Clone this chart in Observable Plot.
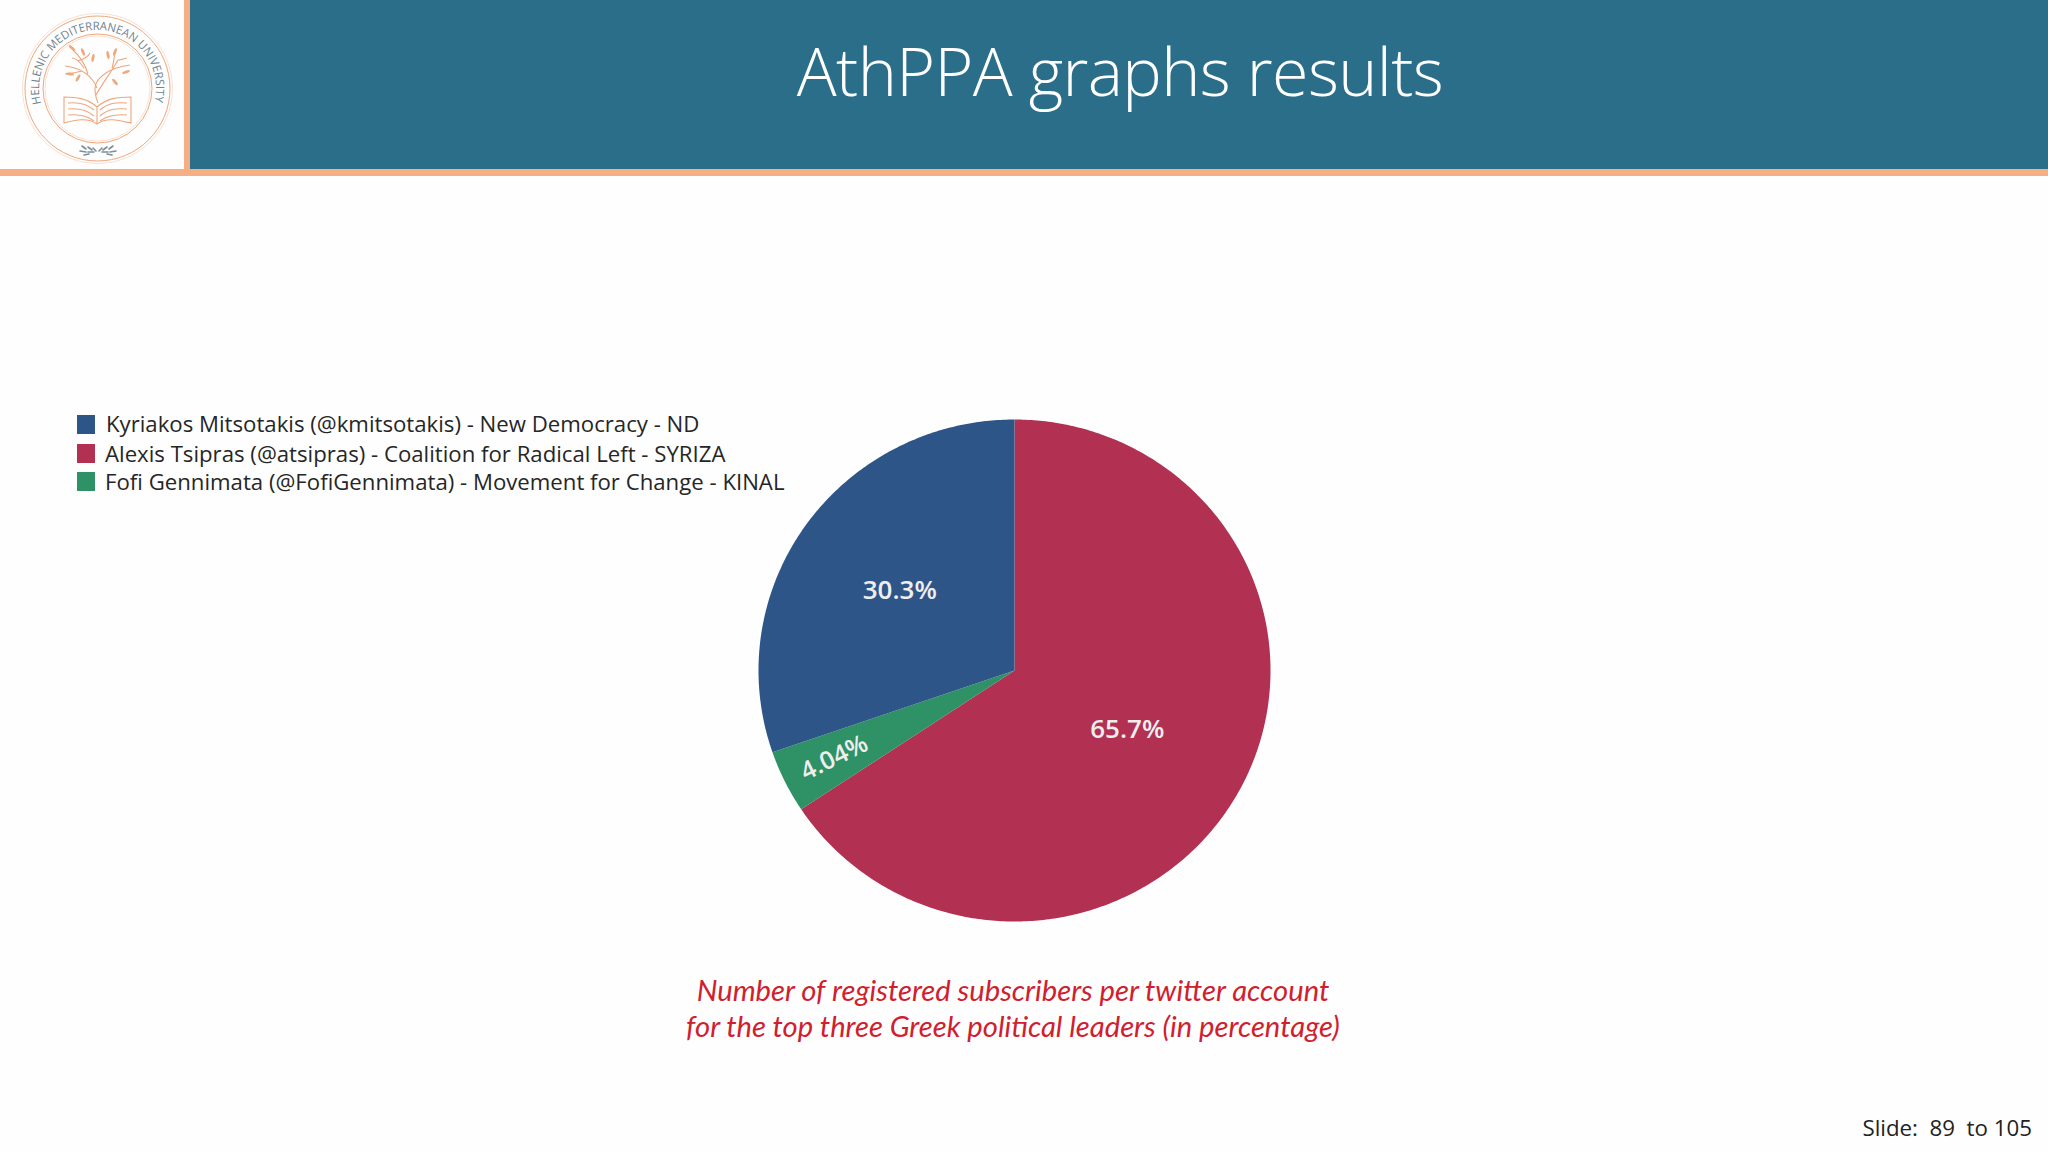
<!DOCTYPE html>
<html><head><meta charset="utf-8">
<script src="https://cdn.jsdelivr.net/npm/d3@7"></script>
<script src="https://cdn.jsdelivr.net/npm/@observablehq/plot@0.6"></script>
<style>
html,body{margin:0;padding:0;background:#fff}
#slide{position:relative;width:2048px;height:1152px;overflow:hidden;background:#fefefe}
#slide>*{position:absolute}
#band{left:190px;top:0;width:1858px;height:170px;background:#2a6e8a}
#vr{left:184px;top:0;width:6px;height:176px;background:#f6ae84}
#hr{left:0;top:169px;width:2048px;height:7px;background:#f6ae84}
#title{left:190px;width:1858px;top:31px;text-align:center;color:#fff;font:300 66.4px/1.2 "Open Sans",sans-serif;letter-spacing:-.6px;margin-left:1px}
#logo{left:0;top:0}
#chart{left:755px;top:416px}
.lg{color:#262626;font:400 22.2px/26px "Open Sans",sans-serif;white-space:nowrap}
.sw{left:77px;width:18px;height:19px}
#caption{left:513px;width:1000px;top:972px;text-align:center;color:#d0202e;font:italic 400 29.2px/36px Lato,sans-serif}
#foot{right:16px;top:1114px;color:#222;font:400 22.3px/28px "Open Sans",sans-serif;white-space:pre}
</style></head><body><div id="slide">
<div id="band"></div><div id="vr"></div><div id="hr"></div>
<div id="title"></div>
<svg id="logo" width="184" height="169" viewBox="0 0 184 169">
  <g fill="none" stroke="#efa77c">
    <circle cx="97.5" cy="88.5" r="75" stroke="#f8d9c5" stroke-width=".8"/>
    <circle cx="97.5" cy="88.5" r="72.5" stroke-width="1"/>
    <circle cx="97.5" cy="88.5" r="54.5" stroke-width="1"/>
    <circle cx="97.5" cy="88.5" r="52.5" stroke="#f8d9c5" stroke-width=".8"/>
    <g stroke-width="1.1">
      <path d="M98 103C92 88 95 80 106 73C112 69 122 66 130 65M96 95C102 84 110 74 118 60M112 68C114 62 114 58 115 52M118 60C122 60 126 58 127 58M97 88C92 76 82 68 65 66M88 74C85 64 80 56 72 49M84 68C80 62 76 58 72 58M78 61C84 59 88 57 90 53M65 74C72 74 78 72 82 71"/>
      <path d="M97 107C87 98 76 97 64 97V123C76 120 87 117 97 124C107 117 118 120 131 123V97C118 97 107 98 97 107V124"/>
      <path d="M68 103C78 102 86 103 94 110M68 109C78 108 86 109 94 116M68 115C78 114 86 115 94 121M100 110C108 103 116 102 127 103M100 116C108 109 116 108 127 109M100 121C108 115 116 114 127 115"/>
    </g>
  </g>
  <g fill="#efa77c">
    <ellipse cx="72" cy="48" rx="4" ry="1.4" transform="rotate(40 72 48)"/>
    <ellipse cx="83" cy="52" rx="4" ry="1.4" transform="rotate(70 83 52)"/>
    <ellipse cx="93" cy="58" rx="4" ry="1.4" transform="rotate(-80 93 58)"/>
    <ellipse cx="70" cy="74" rx="4" ry="1.4" transform="rotate(10 70 74)"/>
    <ellipse cx="78" cy="78" rx="4" ry="1.4" transform="rotate(-60 78 78)"/>
    <ellipse cx="108" cy="55" rx="4" ry="1.4" transform="rotate(80 108 55)"/>
    <ellipse cx="115" cy="52" rx="4" ry="1.4" transform="rotate(-70 115 52)"/>
    <ellipse cx="126" cy="72" rx="4" ry="1.4" transform="rotate(-20 126 72)"/>
    <ellipse cx="115" cy="82" rx="4" ry="1.4" transform="rotate(50 115 82)"/>
  </g>
  <g stroke="#7b8e99" stroke-width="1.6" fill="none" stroke-linecap="round">
    <path d="M82 146l4 3M88 147l4 3M93 148l3 3M80 151l6 1M88 152l6 0M84 155l5-1M113 146l-4 3M107 147l-4 3M102 148l-3 3M116 151l-6 1M108 152l-6 0M112 155l-5-1"/>
  </g>
  <defs><path id="ringText" d="M41 103.5A58.5 58.5 0 1 1 154 103.5"/></defs>
  <text font-family="'Open Sans',sans-serif" font-size="11.5" fill="#6f8390"><textPath href="#ringText" textLength="212" lengthAdjust="spacingAndGlyphs">HELLENIC MEDITERRANEAN UNIVERSITY</textPath></text>
</svg>
<div id="chart"></div>
<div id="caption"></div>
<div id="foot"></div>
</div>
<script>
const titleText = "AthPPA graphs results";
const legendLabels = [
  "Kyriakos Mitsotakis (@kmitsotakis) - New Democracy - ND",
  "Alexis Tsipras (@atsipras) - Coalition for Radical Left - SYRIZA",
  "Fofi Gennimata (@FofiGennimata) - Movement for Change - KINAL"
];
const legendColors = ["#2e5587", "#b23052", "#2f9166"];
const sliceNames = ["Tsipras", "Gennimata", "Mitsotakis"];
const sliceShares = [65.7, 4.04, 30.3];
const sliceLabels = ["65.7%", "4.04%", "30.3%"];
const sliceColors = ["#b23052", "#2f9166", "#2e5587"];
const labelRadius = [0.5, 0.785, 0.55];
const captionLines = ["Number of registered subscribers per twitter account",
  "for the top three Greek political leaders (in percentage)"];
const footText = "Slide:  89  to 105";

document.getElementById("title").textContent = titleText;
document.getElementById("foot").textContent = footText;
document.getElementById("caption").innerHTML = captionLines.join("<br>");

const swatchTops = [415, 444, 472], textTops = [411, 441, 469], textLefts = [106, 105, 105];
const slide = document.getElementById("slide");
legendLabels.forEach((t, i) => {
  const s = document.createElement("div");
  s.className = "sw"; s.style.top = swatchTops[i] + "px"; s.style.background = legendColors[i];
  slide.appendChild(s);
  const l = document.createElement("div");
  l.className = "lg"; l.style.top = textTops[i] + "px"; l.style.left = textLefts[i] + "px"; l.textContent = t;
  slide.appendChild(l);
});

// slices: cumulative shares turned into angles, clockwise from 12 o'clock
const total = d3.sum(sliceShares);
let acc = 0;
const wedgePts = [], labels = [];
sliceShares.forEach((v, i) => {
  const a0 = acc / total * 2 * Math.PI, a1 = (acc + v) / total * 2 * Math.PI;
  acc += v;
  const n = Math.max(2, Math.ceil((a1 - a0) * 90));
  wedgePts.push({name: sliceNames[i], a: 0, r: 0});
  for (let k = 0; k <= n; k++) wedgePts.push({name: sliceNames[i], a: a0 + (a1 - a0) * k / n, r: 1});
  labels.push({name: sliceNames[i], label: sliceLabels[i], a: (a0 + a1) / 2, r: labelRadius[i]});
});
const X = d => d.r * Math.sin(d.a), Y = d => d.r * Math.cos(d.a);

const plot = Plot.plot({
  width: 518, height: 508, margin: 3,
  x: {domain: [-1, 1], axis: null},
  y: {domain: [-1, 1], axis: null},
  color: {domain: sliceNames, range: sliceColors},
  style: {background: "transparent", overflow: "visible"},
  marks: [
    Plot.line(wedgePts, {x: X, y: Y, z: "name", fill: "name", stroke: null, curve: "linear-closed"}),
    Plot.text(labels.filter(d => d.name !== "Gennimata"), {x: X, y: Y, text: "label", fill: "#eeeeee",
      fontSize: 26, fontWeight: 600, fontFamily: "'Open Sans',sans-serif"}),
    Plot.text(labels.filter(d => d.name === "Gennimata"), {x: X, y: Y, text: "label", fill: "#eeeeee", rotate: -26,
      fontSize: 25, fontWeight: 600, fontFamily: "'Open Sans',sans-serif"})
  ]
});
document.getElementById("chart").appendChild(plot);
</script></body></html>
